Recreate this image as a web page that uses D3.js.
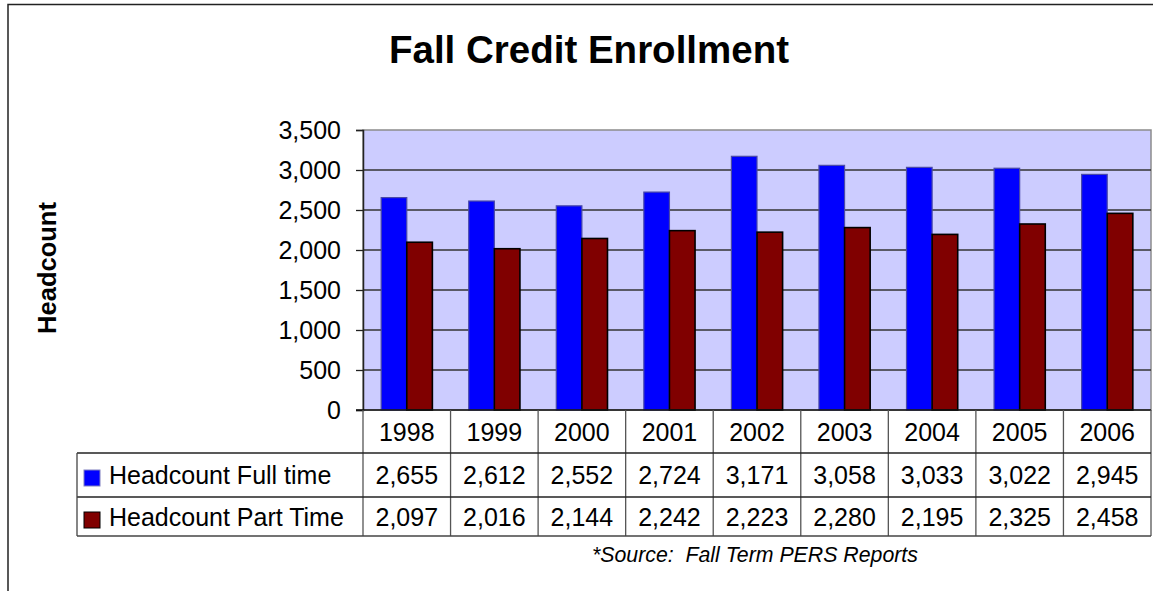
<!DOCTYPE html>
<html>
<head>
<meta charset="utf-8">
<script src="https://cdn.jsdelivr.net/npm/d3@7"></script>
<style>
  body { margin: 0; background: #fff; }
  svg text { font-family: "Liberation Sans", Arial, sans-serif; fill: #000; }
</style>
</head>
<body>
<svg id="chart" width="1153" height="591"></svg>
<script>
// data
const years = ["1998", "1999", "2000", "2001", "2002", "2003", "2004", "2005", "2006"];
const fullTime = [2655, 2612, 2552, 2724, 3171, 3058, 3033, 3022, 2945];
const partTime = [2097, 2016, 2144, 2242, 2223, 2280, 2195, 2325, 2458];
const seriesNames = ["Headcount Full time", "Headcount Part Time"];
const seriesColors = ["#0000ff", "#800000"];
const seriesStroke = ["#4a4aa8", "#000000"];
const yTicks = [0, 500, 1000, 1500, 2000, 2500, 3000, 3500];

const svg = d3.select("#chart");

const plot = {left: 363, right: 1151, top: 130, bottom: 410};
const rows = [410, 453, 497, 536];
const legendLeft = 77;

const x = d3.scaleBand().domain(years).range([plot.left, plot.right]);
const xs = d3.scaleBand().domain([0, 1]).range([0, x.bandwidth()]).paddingOuter(0.71);
const y = d3.scaleLinear().domain([0, 3500]).range([plot.bottom, plot.top]);
const fmt = d3.format(",");

// outer frame
svg.append("path")
    .attr("d", "M8,595 L8,4.5 L1160,4.5")
    .attr("fill", "none")
    .attr("stroke", "#222")
    .attr("stroke-width", 1.5);

// title
svg.append("text")
    .attr("x", 589).attr("y", 63)
    .attr("text-anchor", "middle")
    .style("font-size", "38.5px").style("font-weight", "bold")
    .text("Fall Credit Enrollment");

// y label
svg.append("text")
    .attr("transform", "translate(56,268) rotate(-90)")
    .attr("text-anchor", "middle")
    .style("font-size", "25.5px").style("font-weight", "bold")
    .text("Headcount");

// plot background
svg.append("rect")
    .attr("x", plot.left).attr("y", plot.top)
    .attr("width", plot.right - plot.left).attr("height", plot.bottom - plot.top)
    .attr("fill", "#ccccff")
    .attr("stroke", "#8c8c8c").attr("stroke-width", 1.5);

// gridlines
svg.selectAll("line.grid")
    .data(yTicks.filter(d => d > 0 && d < 3500)).enter()
    .append("line")
    .attr("x1", plot.left).attr("x2", plot.right)
    .attr("y1", d => y(d)).attr("y2", d => y(d))
    .attr("stroke", "#333").attr("stroke-width", 1.3);

// y axis
const yAxis = svg.append("g")
    .attr("transform", `translate(${plot.left},0)`)
    .call(d3.axisLeft(y).tickValues(yTicks).tickFormat(fmt).tickSize(7).tickPadding(15));
yAxis.select(".domain").attr("stroke", "#222").attr("stroke-width", 1.5);
yAxis.selectAll(".tick line").attr("stroke", "#222").attr("stroke-width", 1.3);
yAxis.selectAll(".tick text")
    .style("font-size", "25px")
    .style("font-family", '"Liberation Sans", Arial, sans-serif')
    .attr("fill", "#000");

// bars
const series = [fullTime, partTime];
series.forEach((vals, si) => {
    svg.selectAll("rect.s" + si)
        .data(vals).enter()
        .append("rect")
        .attr("x", (d, i) => x(years[i]) + xs(si))
        .attr("y", d => y(d))
        .attr("width", xs.bandwidth())
        .attr("height", d => y(0) - y(d))
        .attr("fill", seriesColors[si])
        .attr("stroke", seriesStroke[si])
        .attr("stroke-width", si === 0 ? 1.2 : 1.6);
});

// zero axis line
svg.append("line")
    .attr("x1", plot.left - 7).attr("x2", plot.right)
    .attr("y1", y(0)).attr("y2", y(0))
    .attr("stroke", "#111").attr("stroke-width", 1.5);

// data table
const tbl = svg.append("g");
// vertical column lines
tbl.selectAll("line.col")
    .data(years.map(d => x(d)).concat([plot.right])).enter()
    .append("line")
    .attr("x1", d => d).attr("x2", d => d)
    .attr("y1", rows[0]).attr("y2", rows[3])
    .attr("stroke", "#555").attr("stroke-width", 1.3);
// horizontal lines
tbl.append("line")
    .attr("x1", legendLeft).attr("x2", plot.right)
    .attr("y1", rows[1]).attr("y2", rows[1])
    .attr("stroke", "#222").attr("stroke-width", 1.3);
tbl.append("line")
    .attr("x1", legendLeft).attr("x2", plot.right)
    .attr("y1", rows[2]).attr("y2", rows[2])
    .attr("stroke", "#222").attr("stroke-width", 1.3);
tbl.append("line")
    .attr("x1", legendLeft).attr("x2", plot.right)
    .attr("y1", rows[3]).attr("y2", rows[3])
    .attr("stroke", "#444").attr("stroke-width", 1.3);
tbl.append("line")
    .attr("x1", legendLeft).attr("x2", legendLeft)
    .attr("y1", rows[1]).attr("y2", rows[3])
    .attr("stroke", "#444").attr("stroke-width", 1.3);

// year header
tbl.selectAll("text.year")
    .data(years).enter()
    .append("text")
    .attr("x", d => x(d) + x.bandwidth() / 2)
    .attr("y", rows[0] + 31)
    .attr("text-anchor", "middle")
    .style("font-size", "25px")
    .text(d => d);

// value rows
series.forEach((vals, si) => {
    const base = rows[si + 1] + 31 - (si === 1 ? 2 : 0);
    tbl.selectAll("text.v" + si)
        .data(vals).enter()
        .append("text")
        .attr("x", (d, i) => x(years[i]) + x.bandwidth() / 2)
        .attr("y", base)
        .attr("text-anchor", "middle")
        .style("font-size", "25px")
        .text(d => fmt(d));

    tbl.append("rect")
        .attr("x", 84).attr("y", base - 14)
        .attr("width", 16).attr("height", 16)
        .attr("fill", seriesColors[si])
        .attr("stroke", si === 0 ? "#8080c0" : "#000")
        .attr("stroke-width", 1);

    tbl.append("text")
        .attr("x", 109).attr("y", base)
        .style("font-size", "25px")
        .text(seriesNames[si]);
});

// source note
svg.append("text")
    .attr("x", 592).attr("y", 562)
    .style("font-size", "21.3px").style("font-style", "italic")
    .style("white-space", "pre")
    .text("*Source:  Fall Term PERS Reports");
</script>
</body>
</html>
